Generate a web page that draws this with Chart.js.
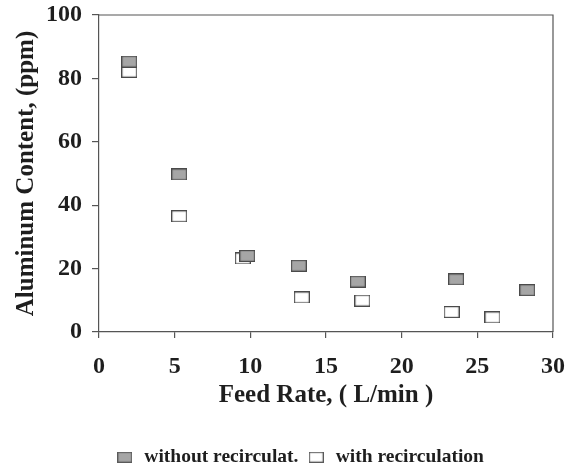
<!DOCTYPE html>
<html>
<head>
<meta charset="utf-8">
<script src="https://cdn.jsdelivr.net/npm/chart.js@4"></script>
<style>
  html, body { margin: 0; padding: 0; background: #fff; }
  #wrap { width: 573px; height: 468px; }
</style>
</head>
<body>
<div id="wrap"><canvas id="c" width="573" height="468"></canvas></div>
<script>
// Data
const withoutFeedRate = [2.0, 5.3, 9.8, 13.2, 17.1, 23.6, 28.3];
const withoutAluminum = [85.3, 49.7, 24.0, 20.9, 15.9, 16.6, 13.2];
const withFeedRate = [2.0, 5.3, 9.5, 13.4, 17.4, 23.3, 26.0];
const withAluminum = [82.1, 36.5, 23.2, 10.9, 9.9, 6.3, 4.6];
const seriesLabels = ['without recirculat.', 'with recirculation'];
const xTitle = 'Feed Rate, ( L/min )';
const yTitle = 'Aluminum Content, (ppm)';

function markerImage(w, h, fill, stroke) {
  const cv = document.createElement('canvas');
  cv.width = w; cv.height = h;
  const g = cv.getContext('2d');
  g.fillStyle = fill;
  g.fillRect(0, 0, w, h);
  g.strokeStyle = stroke;
  g.lineWidth = 1.2;
  g.strokeRect(0.6, 0.6, w - 1.2, h - 1.2);
  return cv;
}
const grayMarker = markerImage(16, 12, '#a6a6a6', '#4a4a4a');
const whiteMarker = markerImage(16, 12, '#ffffff', '#4a4a4a');
const grayLegend = markerImage(15, 11, '#a6a6a6', '#5a5a5a');
const whiteLegend = markerImage(15, 11, '#ffffff', '#5a5a5a');

const toPoints = (xs, ys) => xs.map((x, i) => ({ x: x, y: ys[i] }));

const frame = {
  id: 'frame',
  afterLayout(chart) {
    const lg = chart.legend;
    if (lg) { lg.top += 9; lg.bottom += 9; lg.left += 23; lg.right += 23; }
  },
  afterDraw(chart) {
    const a = chart.chartArea, ctx = chart.ctx;
    ctx.save();
    ctx.strokeStyle = '#555';
    ctx.lineWidth = 1.2;
    ctx.beginPath();
    ctx.moveTo(a.left, a.top);
    ctx.lineTo(a.right, a.top);
    ctx.lineTo(a.right, a.bottom);
    ctx.stroke();
    ctx.restore();
  }
};

const serif = '"Liberation Serif", "Times New Roman", serif';
const textColor = '#1e1e1e';

new Chart(document.getElementById('c'), {
  type: 'scatter',
  data: {
    datasets: [
      {
        label: seriesLabels[0],
        data: toPoints(withoutFeedRate, withoutAluminum),
        pointStyle: grayMarker,
        backgroundColor: '#a6a6a6',
        borderColor: '#4a4a4a'
      },
      {
        label: seriesLabels[1],
        data: toPoints(withFeedRate, withAluminum),
        pointStyle: whiteMarker,
        backgroundColor: '#ffffff',
        borderColor: '#4a4a4a'
      }
    ]
  },
  options: {
    responsive: false,
    animation: false,
    devicePixelRatio: 1,
    layout: { padding: { top: 15, right: 20, left: 0, bottom: 0 } },
    plugins: {
      tooltip: { enabled: false },
      legend: {
        position: 'bottom',
        labels: {
          usePointStyle: true,
          color: textColor,
          padding: 8,
          font: { family: serif, size: 19.5, weight: 'bold' },
          generateLabels(chart) {
            return chart.data.datasets.map((d, i) => ({
              text: d.label,
              pointStyle: i === 0 ? grayLegend : whiteLegend,
              fillStyle: d.backgroundColor,
              strokeStyle: d.borderColor,
              lineWidth: 1,
              fontColor: textColor,
              datasetIndex: i,
              hidden: false
            }));
          }
        }
      }
    },
    scales: {
      x: {
        type: 'linear',
        min: 0, max: 30,
        ticks: { stepSize: 5, color: textColor, padding: 14, font: { family: serif, size: 24, weight: 'bold' } },
        grid: { drawOnChartArea: false, drawTicks: true, tickLength: 6, color: '#555', lineWidth: 1.2 },
        border: { display: true, color: '#555', width: 1.2 },
        title: { display: true, text: xTitle, color: textColor, font: { family: serif, size: 25, weight: 'bold' }, padding: { top: 0, bottom: 20 } },
        afterFit(scale) {
          scale.height = 468 - 332 - (scale.chart.legend ? scale.chart.legend.height : 0);
          scale.paddingLeft = 0; scale.paddingRight = 0;
        }
      },
      y: {
        min: 0, max: 100,
        ticks: { stepSize: 20, color: textColor, padding: 10, font: { family: serif, size: 24, weight: 'bold' } },
        grid: { drawOnChartArea: false, drawTicks: true, tickLength: 7, color: '#555', lineWidth: 1.2 },
        border: { display: true, color: '#555', width: 1.2 },
        title: { display: true, text: yTitle, color: textColor, font: { family: serif, size: 25, weight: 'bold' }, padding: { top: 12, bottom: 0 } },
        afterFit(scale) {
          scale.width = 99;
          scale.paddingTop = 0; scale.paddingBottom = 0;
        }
      }
    }
  },
  plugins: [frame]
});
</script>
</body>
</html>
